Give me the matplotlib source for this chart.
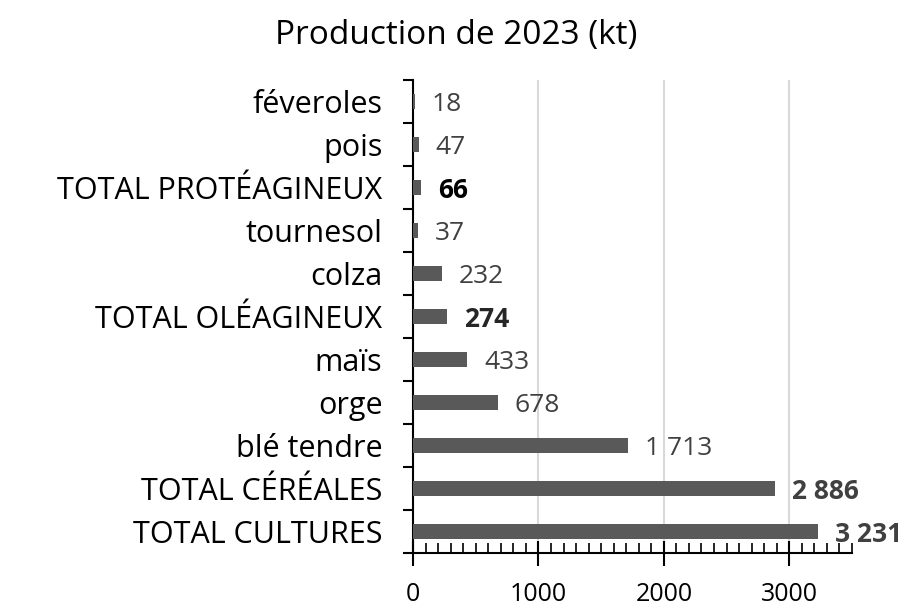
import matplotlib
matplotlib.use("Agg")
import matplotlib.pyplot as plt
from matplotlib.ticker import MultipleLocator

categories = ["TOTAL CULTURES", "TOTAL CÉRÉALES", "blé tendre", "orge", "maïs",
              "TOTAL OLÉAGINEUX", "colza", "tournesol", "TOTAL PROTÉAGINEUX", "pois", "féveroles"]
values = [3231, 2886, 1713, 678, 433, 274, 232, 37, 66, 47, 18]
bold = [True, True, False, False, False, True, False, False, True, False, False]
label_colors = ["#404040", "#404040", "#404040", "#404040", "#404040", "#262626",
                "#404040", "#404040", "#000000", "#404040", "#404040"]
title = "Production de 2023 (kt)"

plt.rcParams['font.family'] = ['Open Sans', 'DejaVu Sans']

fig = plt.figure(figsize=(9.08, 6.06), dpi=100)
ax = fig.add_axes([0.4549, 0.0875, 0.4834, 0.7805])

y = list(range(len(categories)))
ax.barh(y, values, height=0.35, color="#595959", zorder=3)

ax.set_xlim(0, 3500)
ax.set_ylim(-0.5, len(categories) - 0.5)

for yi, v, b, c in zip(y, values, bold, label_colors):
    txt = f"{v:,}".replace(",", " ")
    ax.annotate(txt, (v, yi), xytext=(12, -2), textcoords="offset points",
                va="center", ha="left", fontsize=19,
                fontweight="bold" if b else "normal", color=c,
                family=['Open Sans', 'DejaVu Sans'])

ax.set_yticks(y)
ax.set_yticklabels(categories, fontsize=22, color="black")
ax.tick_params(axis="y", which="major", length=0, pad=22)
ax.set_yticks([i - 0.5 for i in range(len(categories) + 1)], minor=True)
ax.tick_params(axis="y", which="minor", length=7, width=1.5, direction="out")

ax.xaxis.set_major_locator(MultipleLocator(1000))
ax.xaxis.set_minor_locator(MultipleLocator(100))
ax.tick_params(axis="x", which="major", direction="inout", length=18, width=1.5,
               labelsize=18, pad=12)
ax.tick_params(axis="x", which="minor", direction="in", length=7, width=1.2)

ax.grid(axis="x", which="major", color="#d9d9d9", linewidth=1.5, zorder=0)
for s in ["top", "right"]:
    ax.spines[s].set_visible(False)
for s in ["left", "bottom"]:
    ax.spines[s].set_linewidth(1.5)

fig.text(0.502, 0.942, title, ha="center", va="center", fontsize=24)

fig.savefig("out.png", dpi=100)
